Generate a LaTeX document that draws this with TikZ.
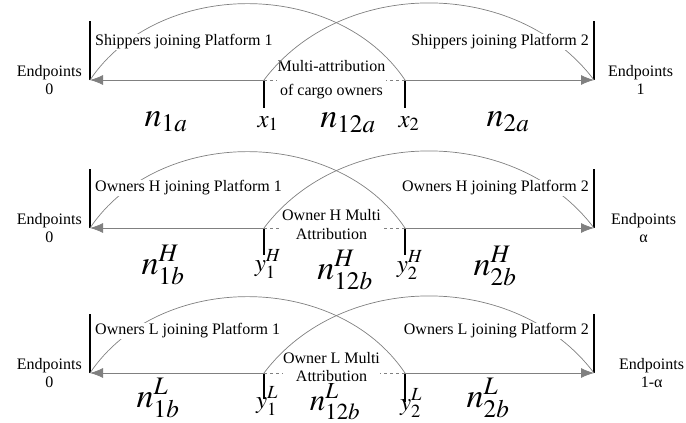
\documentclass[tikz,border=0pt]{standalone}
\usepackage{mathptmx}
\usepackage{fontspec}
\setmainfont{Liberation Serif}
\usetikzlibrary{positioning, calc, arrows.meta}

\tikzstyle{Axis} = [gray, line width=0.8pt]
\tikzstyle{Curve} = [gray, line width=0.7pt]
\tikzstyle{Bar} = [black, line width=2.2pt]
\tikzstyle{Tick} = [black, line width=2pt]
\tikzstyle{Head} = [-{Latex[length=13pt,width=10pt]}]
\tikzstyle{Label} = [font=\fontsize{16}{18}\selectfont, inner sep=1pt]
\tikzstyle{Tag} = [Label, fill=white]
\tikzstyle{End} = [Label, align=center]
\tikzstyle{Mid} = [Label, align=center, fill=white, inner sep=0.5pt]
\tikzstyle{Share} = [font=\fontsize{34}{36}\selectfont, inner sep=0pt, anchor=base]
\tikzstyle{Cut} = [font=\fontsize{25}{27}\selectfont, inner sep=0pt, anchor=base]

\begin{document}
\begin{tikzpicture}[x=1pt, y=-1pt]
    \useasboundingbox (0,0) rectangle (686,423);

    % shippers
    \coordinate (a0) at (90,80);
    \coordinate (a1) at (594,80);
    \coordinate (ax1) at (264,80);
    \coordinate (ax2) at (405,80);
    \draw[Bar] (a0) -- ++(0,-59);
    \draw[Bar] (a1) -- ++(0,-59);
    \draw[Tick] (ax1) -- ++(0,28);
    \draw[Tick] (ax2) -- ++(0,28);
    \draw[Axis, Head] (ax1) -- (a0);
    \draw[Axis, Head] (ax2) -- (a1);
    \draw[Axis, dashed] (ax1) -- (ax2);
    \node[Mid] (am) at ($(ax1)!0.5!(ax2)+(-3,0)$) {Multi-attribution\\[6pt]of cargo owners};
    \draw[Curve] (a0) to[bend left=56] (ax2);
    \draw[Curve] (ax1) to[bend left=53] (a1);
    \node[Tag, anchor=west] (ap1) at ($(a0)+(4,-38)$) {Shippers joining Platform 1};
    \node[Tag, anchor=east] (ap2) at ($(a1)+(-4,-38)$) {Shippers joining Platform 2};
    \node[End, left=7pt of a0] (ae0) {Endpoints\\0};
    \node[End, right=13pt of a1] (ae1) {Endpoints\\1};
    \node[Share] (an1) at (166,126) {$n_{1a}$};
    \node[Cut] (ac1) at (268,127) {$x_1$};
    \node[Share] (an12) at (348,127) {$n_{12a}$};
    \node[Cut] (ac2) at (409,127) {$x_2$};
    \node[Share] (an2) at (508,126) {$n_{2a}$};

    % owners H
    \coordinate (b0) at (90,228);
    \coordinate (b1) at (594,228);
    \coordinate (by1) at (264,228);
    \coordinate (by2) at (405,228);
    \draw[Bar] (b0) -- ++(0,-59);
    \draw[Bar] (b1) -- ++(0,-59);
    \draw[Tick] (by1) -- ++(0,27);
    \draw[Tick] (by2) -- ++(0,27);
    \draw[Axis, Head] (by1) -- (b0);
    \draw[Axis, Head] (by2) -- (b1);
    \draw[Axis, dashed] (by1) -- (by2);
    \node[Mid] (bm) at ($(by1)!0.5!(by2)+(-3,-3)$) {Owner H Multi\\[1pt]Attribution};
    \draw[Curve] (b0) to[bend left=56] (by2);
    \draw[Curve] (by1) to[bend left=53] (b1);
    \node[Tag, anchor=west] (bp1) at ($(b0)+(4,-40)$) {Owners H joining Platform 1};
    \node[Tag, anchor=east] (bp2) at ($(b1)+(-4,-40)$) {Owners H joining Platform 2};
    \node[End, left=7pt of b0] (be0) {Endpoints\\0};
    \node[End, right=16pt of b1] (be1) {Endpoints\\α};
    \node[Share] (bn1) at (163,274) {$n^H_{1b}$};
    \node[Cut] (bc1) at (268,271) {$y^H_1$};
    \node[Share] (bn12) at (345,279) {$n^H_{12b}$};
    \node[Cut] (bc2) at (410,272) {$y^H_2$};
    \node[Share] (bn2) at (495,275) {$n^H_{2b}$};

    % owners L
    \coordinate (c0) at (90,373);
    \coordinate (c1) at (594,373);
    \coordinate (cy1) at (264,373);
    \coordinate (cy2) at (405,373);
    \draw[Bar] (c0) -- ++(0,-59);
    \draw[Bar] (c1) -- ++(0,-59);
    \draw[Tick] (cy1) -- ++(0,26);
    \draw[Tick] (cy2) -- ++(0,29);
    \draw[Axis, Head] (cy1) -- (c0);
    \draw[Axis, Head] (cy2) -- (c1);
    \draw[Axis, dashed] (cy1) -- (cy2);
    \node[Mid] (cm) at ($(cy1)!0.5!(cy2)+(-3,-6)$) {Owner L Multi\\[0pt]Attribution};
    \draw[Curve] (c0) to[bend left=56] (cy2);
    \draw[Curve] (cy1) to[bend left=53] (c1);
    \node[Tag, anchor=west] (cp1) at ($(c0)+(4,-42)$) {Owners L joining Platform 1};
    \node[Tag, anchor=east] (cp2) at ($(c1)+(-4,-42)$) {Owners L joining Platform 2};
    \node[End, left=7pt of c0] (ce0) {Endpoints\\0};
    \node[End, right=24pt of c1] (ce1) {Endpoints\\1-α};
    \node[Share] (cn1) at (158,407) {$n^L_{1b}$};
    \node[Cut] (cc1) at (267,408) {$y^L_1$};
    \node[Share, font=\fontsize{31}{33}\selectfont] (cn12) at (335,410) {$n^L_{12b}$};
    \node[Cut] (cc2) at (411,410) {$y^L_2$};
    \node[Share] (cn2) at (488,407) {$n^L_{2b}$};
\end{tikzpicture}
\end{document}
